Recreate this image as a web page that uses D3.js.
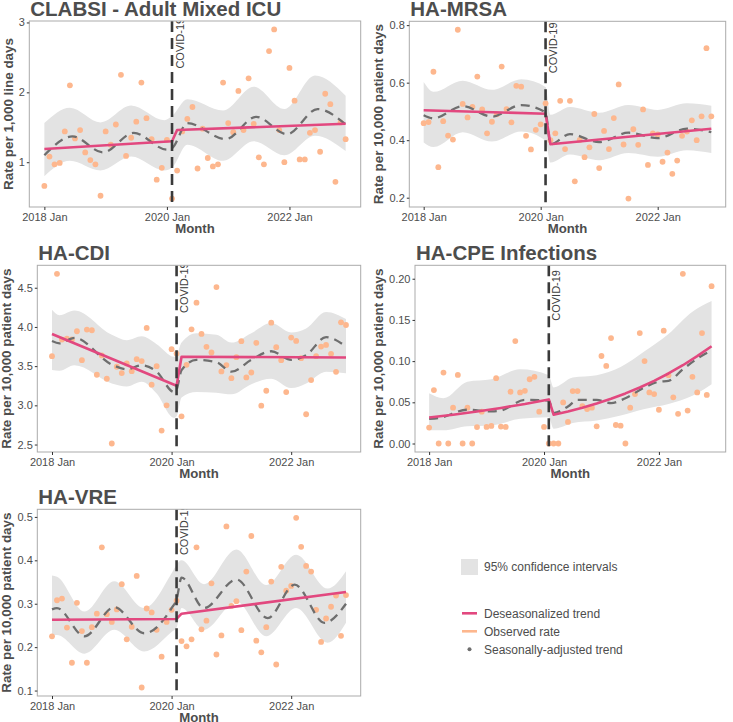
<!DOCTYPE html>
<html>
<head>
<meta charset="utf-8">
<script src="https://cdnjs.cloudflare.com/ajax/libs/d3/7.8.5/d3.min.js"></script>
<style>
  body { margin: 0; background: #fff; }
  svg { display: block; }
  text { font-family: "Liberation Sans", Arial, Helvetica, sans-serif; }
</style>
</head>
<body>
<svg id="chart" width="733" height="722"></svg>
<script>
// months 2018 Jan .. 2022 Dec, indexed 0..59
const nMonths = 60;
const xTickMonths = [0, 24, 48];
const xTickLabels = ["2018 Jan", "2020 Jan", "2022 Jan"];
const covidMonth = 25;

// ---- CLABSI ----
const clabsiObs = [0.66,1.08,0.97,0.99,1.44,2.10,1.34,1.46,1.14,1.03,0.97,0.52,1.44,1.25,1.54,2.25,1.09,1.35,1.58,2.14,
  1.63,1.33,0.75,0.92,1.32,0.48,0.88,1.44,1.62,1.79,0.91,1.48,1.06,0.94,0.97,2.14,1.56,1.43,2.02,1.46,
  2.20,1.55,1.07,0.97,2.59,2.90,1.46,1.00,2.35,1.88,1.04,1.04,1.42,1.46,1.15,1.98,1.83,0.72,1.57,1.33];
const clabsiTrend = [[0,1.19],[25,1.30],[26,1.46],[59,1.55]];
const clabsiSeasonal = [[0,1.10],[5.5,1.37],[11.5,1.14],[17.5,1.42],[24,1.18],[25,1.20],[28,1.56],[35.5,1.33],[41.5,1.65],[47.5,1.40],[53.5,1.76],[59,1.54]];
const clabsiBand = [[0,0.80,1.56],[5,1.02,1.78],[11,0.88,1.57],[17,1.08,1.81],[23.5,0.88,1.60],[25,0.92,1.66],[28,1.25,1.90],[35,1.02,1.74],[41,1.30,2.08],[47,1.10,1.76],[53,1.38,2.24],[59,1.16,1.95]];
const clabsiTicks = [1, 2, 3];
const clabsiTickLabels = ["1", "2", "3"];

// ---- HA-MRSA ----
const mrsaObs = [0.459,0.463,0.638,0.306,0.466,0.416,0.402,0.784,0.526,0.479,0.516,0.621,0.507,0.424,0.464,0.49,0.656,0.508,0.462,0.589,
  0.586,0.415,0.368,0.436,0.455,0.528,0.40,0.424,0.537,0.369,0.537,0.257,0.401,0.341,0.375,0.491,0.303,0.432,0.369,0.477,
  0.594,0.385,0.197,0.438,0.384,0.507,0.314,0.424,0.42,0.325,0.357,0.283,0.329,0.415,0.43,0.469,0.40,0.483,0.72,0.483];
const mrsaTrend = [[0,0.504],[25,0.492],[26,0.386],[59,0.440]];
const mrsaSeasonal = [[0,0.487],[2,0.476],[8,0.518],[14,0.482],[20,0.522],[25,0.497],[26,0.386],[30,0.421],[36,0.393],[42,0.426],[48,0.407],[54,0.44],[59,0.428]];
const mrsaBand = [[0,0.392,0.602],[2,0.376,0.568],[8,0.428,0.607],[14,0.395,0.575],[20,0.430,0.612],[25,0.398,0.585],[26,0.322,0.488],[30,0.350,0.515],[36,0.330,0.495],[42,0.355,0.522],[48,0.342,0.505],[54,0.365,0.528],[59,0.355,0.52]];
const mrsaTicks = [0.2, 0.4, 0.6, 0.8];
const mrsaTickLabels = ["0.2", "0.4", "0.6", "0.8"];

// ---- HA-CDI ----
const cdiObs = [3.627,4.678,3.839,3.852,3.84,3.945,3.576,3.966,3.958,3.390,3.636,3.339,2.513,3.492,3.411,3.534,3.436,3.589,3.564,3.987,
  3.263,3.5,2.678,3.0,3.716,3.66,2.86,3.517,3.97,4.309,3.911,3.746,3.674,4.508,3.432,3.513,3.347,3.614,3.818,3.356,
  3.419,3.797,2.996,3.186,4.055,3.742,3.576,3.169,3.864,3.822,3.602,2.886,3.322,3.627,3.75,3.771,3.657,3.428,4.059,4.025];
const cdiTrend = [[0,3.91],[25,3.25],[26,3.62],[59,3.61]];
const cdiSeasonal = [[0,3.82],[1.5,3.79],[4.5,3.86],[12,3.52],[15,3.46],[18,3.51],[21,3.43],[24.5,3.17],[25,3.2],[26,3.45],[29,3.58],[33,3.55],[36,3.43],[40,3.58],[44,3.69],[48,3.58],[51,3.64],[55,3.87],[59,3.75]];
const cdiBand = [[0,3.45,4.22],[1.5,3.44,4.15],[4.5,3.51,4.21],[12,3.28,3.90],[15,3.24,3.83],[18,3.30,3.88],[21,3.15,3.78],[24.5,2.84,3.62],[25,2.86,3.64],[26,3.10,3.80],[29,3.17,3.92],[33,3.16,3.90],[36,3.14,3.80],[40,3.27,3.92],[44,3.34,4.05],[48,3.22,3.93],[51,3.28,3.98],[55,3.43,4.19],[59,3.41,4.10]];
const cdiTicks = [2.5, 3.0, 3.5, 4.0, 4.5];
const cdiTickLabels = ["2.5", "3.0", "3.5", "4.0", "4.5"];

// ---- HA-CPE Infections ----
const cpeObs = [0.0193,0.0648,0,0.0861,0,0.0435,0.0833,0,0.0435,0,0.02,0.0386,0.0201,0.0213,0.0793,0.0205,0.0201,0.0628,0.1243,0.062,
  0.064,0.078,0.0809,0.0386,0.0201,0,0,0,0.0499,0.0262,0.0636,0.0636,0.0455,0.0418,0.0435,0.0209,0.1062,0.0942,0.128,0.0225,
  0.0217,0,0.0435,0.06,0.134,0.10,0.062,0.060,0.041,0.137,0.083,0.056,0.036,0.206,0.040,0.081,0.062,0.134,0.059,0.191];
const cpeTrend = [[0,0.0315],[5,0.035],[10,0.0389],[15,0.0432],[20,0.048],[25,0.0535],[26,0.035],[29,0.0389],[32,0.0435],[35,0.0486],[38,0.0544],[41,0.0608],[44,0.068],[47,0.076],[50,0.085],[53,0.095],[56,0.106],[59,0.118]];
const cpeSeasonal = [[0,0.030],[2,0.031],[8,0.041],[13,0.039],[15,0.040],[20,0.053],[25,0.052],[26,0.037],[29,0.045],[31,0.053],[35,0.053],[38,0.049],[41,0.055],[45,0.068],[48,0.075],[50,0.076],[53,0.09],[56,0.103],[59,0.113]];
const cpeBand = [[0,0.016,0.061],[3,0.016,0.055],[8,0.021,0.075],[13,0.022,0.078],[19,0.030,0.090],[25,0.032,0.083],[26,0.018,0.068],[30,0.025,0.080],[35,0.028,0.083],[40,0.034,0.093],[45,0.042,0.112],[50,0.048,0.133],[55,0.058,0.160],[59,0.072,0.173]];
const cpeTicks = [0, 0.05, 0.10, 0.15, 0.20];
const cpeTickLabels = ["0.00", "0.05", "0.10", "0.15", "0.20"];

// ---- HA-VRE ----
const vreObs = [0.225,0.308,0.312,0.245,0.164,0.302,0.237,0.164,0.246,0.277,0.43,0.276,0.258,0.287,0.345,0.218,0.247,0.364,0.107,0.289,
  0.280,0.240,0.178,0.258,0.286,0.307,0.214,0.202,0.218,0.43,0.241,0.261,0.347,0.183,0.227,0.478,0.295,0.306,0.239,0.374,
  0.456,0.215,0.188,0.246,0.351,0.16,0.385,0.33,0.341,0.498,0.431,0.387,0.374,0.286,0.212,0.266,0.293,0.319,0.226,0.32];
const vreTrend = [[0,0.263],[25,0.265],[26,0.277],[59,0.327]];
const vreSeasonal = [[0,0.287],[1,0.29],[6.5,0.225],[12.5,0.292],[18.5,0.232],[24,0.29],[25,0.31],[26,0.36],[30.5,0.29],[37,0.356],[43.3,0.267],[48.7,0.344],[54.7,0.256],[59,0.30]];
const vreBand = [[0,0.225,0.365],[1,0.228,0.362],[6.5,0.185,0.282],[12.5,0.240,0.352],[18.5,0.190,0.290],[24,0.235,0.37],[25,0.245,0.39],[26,0.29,0.40],[30.5,0.24,0.345],[37,0.305,0.425],[43,0.225,0.343],[49,0.29,0.413],[55.3,0.21,0.335],[59,0.256,0.375]];
const vreTicks = [0.1, 0.2, 0.3, 0.4, 0.5];
const vreTickLabels = ["0.1", "0.2", "0.3", "0.4", "0.5"];

const legendLabels = ["95% confidence intervals", "Deseasonalized trend", "Observed rate", "Seasonally-adjusted trend"];

// colours
const bandColor = "#E3E3E3";
const obsColor = "#FDB78E";
const trendColor = "#E2487F";
const seasColor = "#6E6E6E";
const textColor = "#4D4D4D";

const panels = [
  { title: "CLABSI - Adult Mixed ICU", ylab: "Rate per 1,000 line days", obs: clabsiObs, trend: clabsiTrend, seas: clabsiSeasonal, band: clabsiBand, ticks: clabsiTicks, tickLabels: clabsiTickLabels, covidY: 2.34, box: [29.3, 21, 360.7, 207], ylabX: 13 },
  { title: "HA-MRSA", ylab: "Rate per 10,000 patient days", obs: mrsaObs, trend: mrsaTrend, seas: mrsaSeasonal, band: mrsaBand, ticks: mrsaTicks, tickLabels: mrsaTickLabels, covidY: 0.633, box: [409.3, 21.3, 725.7, 207], ylabX: 382.6 },
  { title: "HA-CDI", ylab: "Rate per 10,000 patient days", obs: cdiObs, trend: cdiTrend, seas: cdiSeasonal, band: cdiBand, ticks: cdiTicks, tickLabels: cdiTickLabels, covidY: 4.177, box: [37.3, 265.3, 360.7, 452], ylabX: 11.3 },
  { title: "HA-CPE Infections", ylab: "Rate per 10,000 patient days", obs: cpeObs, trend: cpeTrend, seas: cpeSeasonal, band: cpeBand, ticks: cpeTicks, tickLabels: cpeTickLabels, covidY: 0.149, box: [415, 265.3, 725.7, 452], ylabX: 382.6 },
  { title: "HA-VRE", ylab: "Rate per 10,000 patient days", obs: vreObs, trend: vreTrend, seas: vreSeasonal, band: vreBand, ticks: vreTicks, tickLabels: vreTickLabels, covidY: 0.412, box: [37.3, 509.3, 360.7, 696], ylabX: 11.3 }
];

const svg = d3.select("#chart");
const defs = svg.append("defs");
const span = nMonths - 1;

panels.forEach((p, i) => {
  const [x0, y0, x1, y1] = p.box;

  const x = d3.scaleLinear()
    .domain([-0.05 * span, span * 1.05])
    .range([x0, x1]);

  const allVals = p.obs.concat(p.band.map(d => d[1]), p.band.map(d => d[2]));
  const [lo, hi] = d3.extent(allVals);
  const pad = (hi - lo) * 0.05;
  const y = d3.scaleLinear()
    .domain([lo - pad, hi + pad])
    .range([y1, y0]);

  defs.append("clipPath").attr("id", "clip" + i)
    .append("rect")
    .attr("x", x0).attr("y", y0)
    .attr("width", x1 - x0).attr("height", y1 - y0);

  const g = svg.append("g").attr("clip-path", `url(#clip${i})`);

  const area = d3.area()
    .x(d => x(d[0]))
    .y0(d => y(d[1]))
    .y1(d => y(d[2]))
    .curve(d3.curveMonotoneX);

  g.append("path")
    .attr("d", area(p.band))
    .attr("fill", bandColor);

  g.selectAll(".obs")
    .data(p.obs)
    .enter()
    .append("circle")
    .attr("class", "obs")
    .attr("cx", (d, k) => x(k))
    .attr("cy", d => y(d))
    .attr("r", 2.9)
    .attr("fill", obsColor);

  const smooth = d3.line()
    .x(d => x(d[0]))
    .y(d => y(d[1]))
    .curve(d3.curveMonotoneX);

  g.append("path")
    .attr("d", smooth(p.seas))
    .attr("fill", "none")
    .attr("stroke", seasColor)
    .attr("stroke-width", 2.3)
    .attr("stroke-dasharray", "9,6");

  const straight = d3.line()
    .x(d => x(d[0]))
    .y(d => y(d[1]));

  g.append("path")
    .attr("d", straight(p.trend))
    .attr("fill", "none")
    .attr("stroke", trendColor)
    .attr("stroke-width", 2.6)
    .attr("stroke-linejoin", "round");

  g.append("line")
    .attr("x1", x(covidMonth)).attr("x2", x(covidMonth))
    .attr("y1", y0).attr("y2", y1)
    .attr("stroke", "#3A3A3A")
    .attr("stroke-width", 2.6)
    .attr("stroke-dasharray", "11,6");

  g.append("text")
    .attr("transform", `translate(${x(covidMonth) + 11.5}, ${y(p.covidY)}) rotate(-90)`)
    .attr("font-size", "11px")
    .attr("fill", "#404040")
    .text("COVID-19");

  svg.append("rect")
    .attr("x", x0).attr("y", y0)
    .attr("width", x1 - x0).attr("height", y1 - y0)
    .attr("fill", "none")
    .attr("stroke", "#ABABAB")
    .attr("stroke-width", 1);

  const xAxis = svg.append("g")
    .attr("transform", `translate(0, ${y1})`)
    .call(d3.axisBottom(x)
      .tickValues(xTickMonths)
      .tickFormat((d, k) => xTickLabels[k])
      .tickSize(3)
      .tickPadding(3.5));

  const yAxis = svg.append("g")
    .attr("transform", `translate(${x0}, 0)`)
    .call(d3.axisLeft(y)
      .tickValues(p.ticks)
      .tickFormat((d, k) => p.tickLabels[k])
      .tickSize(2.5)
      .tickPadding(2));

  [xAxis, yAxis].forEach(ax => {
    ax.select(".domain").remove();
    ax.selectAll(".tick line").attr("stroke", "#333333");
    ax.selectAll(".tick text")
      .attr("fill", textColor)
      .attr("font-size", "11px")
      .attr("font-family", "'Liberation Sans', Arial, sans-serif");
  });

  svg.append("text")
    .attr("x", x0 + 1)
    .attr("y", y0 - 5.5)
    .attr("font-size", "20.5px")
    .attr("font-weight", "bold")
    .attr("fill", textColor)
    .text(p.title);

  svg.append("text")
    .attr("x", (x0 + x1) / 2)
    .attr("y", y1 + 26)
    .attr("text-anchor", "middle")
    .attr("font-size", "13.2px")
    .attr("font-weight", "bold")
    .attr("fill", textColor)
    .text("Month");

  svg.append("text")
    .attr("transform", `translate(${p.ylabX}, ${(y0 + y1) / 2}) rotate(-90)`)
    .attr("text-anchor", "middle")
    .attr("font-size", "13.4px")
    .attr("font-weight", "bold")
    .attr("fill", textColor)
    .text(p.ylab);
});

// legend
const legend = svg.append("g");

legend.append("rect")
  .attr("x", 461).attr("y", 559)
  .attr("width", 17).attr("height", 16)
  .attr("fill", bandColor);

legend.append("text")
  .attr("x", 484).attr("y", 567)
  .attr("dy", "0.35em")
  .attr("font-size", "12px")
  .attr("fill", textColor)
  .text(legendLabels[0]);

const keyY = [613.3, 631.3, 649.3];

legend.append("line")
  .attr("x1", 462).attr("x2", 477)
  .attr("y1", keyY[0]).attr("y2", keyY[0])
  .attr("stroke", trendColor).attr("stroke-width", 2.6);

legend.append("line")
  .attr("x1", 462).attr("x2", 477)
  .attr("y1", keyY[1]).attr("y2", keyY[1])
  .attr("stroke", obsColor).attr("stroke-width", 2.6);

legend.append("circle")
  .attr("cx", 469.5).attr("cy", keyY[2])
  .attr("r", 2)
  .attr("fill", seasColor);

legend.selectAll(".lt")
  .data(legendLabels.slice(1))
  .enter()
  .append("text")
  .attr("class", "lt")
  .attr("x", 484)
  .attr("y", (d, k) => keyY[k])
  .attr("dy", "0.35em")
  .attr("font-size", "12px")
  .attr("fill", textColor)
  .text(d => d);
</script>
</body>
</html>
